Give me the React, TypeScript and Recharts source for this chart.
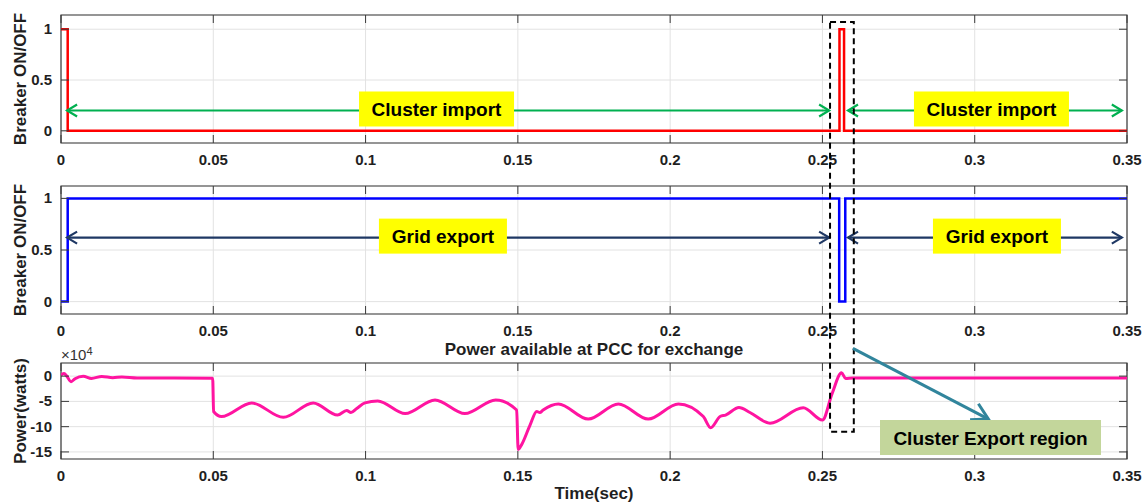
import React from 'react';
import { LineChart, Line, XAxis, YAxis, CartesianGrid, ReferenceArea } from 'recharts';

const FONT = '"Liberation Sans", Arial, Helvetica, sans-serif';
const AXIS = '#3a3a3a';
const GRID = '#e2e2e2';
const TEXT = '#1f1f1f';

// shared time axis (sec)
const timeTicks = [0, 0.05, 0.1, 0.15, 0.2, 0.25, 0.3, 0.35];
const breakerTicks = [0, 0.5, 1];
const powerTicks = [-150000, -100000, -50000, 0];

// cluster breaker state (red)
const clusterTime = [0, 0.0022, 0.2556, 0.2571, 0.35];
const clusterState = [1, 0, 1, 0, 0];

// grid breaker state (blue)
const gridTime = [0, 0.0022, 0.2555, 0.2575, 0.35];
const gridState = [0, 1, 0, 1, 1];

// power available at PCC (watts)
const powerTime = [
  0, 0.001, 0.0019, 0.0033, 0.0046, 0.0073, 0.01, 0.0134, 0.017, 0.02, 0.025, 0.0498,
  0.0501, 0.0527, 0.0626, 0.073, 0.0828, 0.0908, 0.0938, 0.0952, 0.0971, 0.0998, 0.104,
  0.113, 0.1228, 0.1326, 0.1427, 0.1496, 0.1501, 0.1512, 0.154, 0.1562, 0.1572, 0.1583,
  0.1633, 0.1731, 0.183, 0.1928, 0.2027, 0.2109, 0.2133, 0.2164, 0.2182, 0.2226, 0.2262,
  0.2328, 0.2437, 0.25, 0.2532, 0.2563, 0.2576, 0.26, 0.35,
];
const powerWatts = [
  2000, 5000, 0, -11000, -5000, 0, -4500, -500, -3000, -1500, -3500, -4000,
  -70000, -80000, -53000, -81500, -53000, -77000, -68000, -72000, -64000, -53000, -49000,
  -74000, -47000, -74000, -47000, -67000, -145000, -136000, -97000, -70000, -72000, -67000,
  -55000, -85000, -55000, -85000, -55000, -80000, -102000, -80000, -77000, -62000, -72000,
  -93000, -62500, -87000, -34000, 6500, -4500, -3500, -3500,
];

const toRows = (ts: number[], vs: number[]) => ts.map((t, i) => ({ t, v: vs[i] }));

const W = 1145;
const LEFT = 61;
const RIGHT = 1127;
const T_MAX = 0.35;

const xAt = (t: number) => LEFT + (t / T_MAX) * (RIGHT - LEFT);
const yMap = (top: number, h: number, dom: [number, number]) => (v: number) =>
  top + ((dom[1] - v) / (dom[1] - dom[0])) * h;

const P1 = { top: 15, h: 128, dom: [-0.12, 1.14] as [number, number] };
const P2 = { top: 186, h: 128, dom: [-0.12, 1.12] as [number, number] };
const P3 = { top: 363, h: 96, dom: [-164000, 26000] as [number, number] };

const y1 = yMap(P1.top, P1.h, P1.dom);
const y2 = yMap(P2.top, P2.h, P2.dom);
const y3 = yMap(P3.top, P3.h, P3.dom);

const tickText = { fontFamily: FONT, fontSize: 15, fontWeight: 700, fill: TEXT };

// MATLAB style: inward ticks on all four sides, labels outside
const makeXTick = (plotH: number) => (p: any) => (
  <g>
    <line x1={p.x} x2={p.x} y1={p.y} y2={p.y - 8} stroke={AXIS} />
    <line x1={p.x} x2={p.x} y1={p.y - plotH} y2={p.y - plotH + 8} stroke={AXIS} />
    <text x={p.x} y={p.y + 22} textAnchor="middle" {...tickText}>
      {String(p.payload.value)}
    </text>
  </g>
);

const makeYTick = (fmt: (v: number) => string) => (p: any) => {
  const plotW = RIGHT - LEFT;
  return (
    <g>
      <line x1={p.x} x2={p.x + 8} y1={p.y} y2={p.y} stroke={AXIS} />
      <line x1={p.x + plotW - 8} x2={p.x + plotW} y1={p.y} y2={p.y} stroke={AXIS} />
      <text x={p.x - 9} y={p.y + 5} textAnchor="end" {...tickText}>
        {fmt(p.payload.value)}
      </text>
    </g>
  );
};

interface PanelProps {
  top: number;
  h: number;
  dom: [number, number];
  rows: { t: number; v: number }[];
  color: string;
  strokeWidth: number;
  yTicks: number[];
  yFmt: (v: number) => string;
  curve: 'stepAfter' | 'monotone';
}

function Panel({ top, h, dom, rows, color, strokeWidth, yTicks, yFmt, curve }: PanelProps) {
  return (
    <div style={{ position: 'absolute', left: 0, top: top - 15 }}>
      <LineChart
        width={W}
        height={h + 47}
        data={rows}
        margin={{ top: 15, right: W - RIGHT, bottom: 7, left: 0 }}
      >
        <CartesianGrid stroke={GRID} />
        <XAxis
          dataKey="t"
          type="number"
          domain={[0, T_MAX]}
          ticks={timeTicks}
          interval={0}
          allowDataOverflow
          height={25}
          axisLine={false}
          tickLine={false}
          tickSize={0}
          tickMargin={0}
          tick={makeXTick(h)}
        />
        <YAxis
          type="number"
          domain={dom}
          ticks={yTicks}
          interval={0}
          allowDataOverflow
          width={LEFT}
          axisLine={false}
          tickLine={false}
          tickSize={0}
          tickMargin={0}
          tick={makeYTick(yFmt)}
        />
        <ReferenceArea
          x1={0}
          x2={T_MAX}
          y1={dom[0]}
          y2={dom[1]}
          fill="none"
          stroke={AXIS}
          strokeWidth={1.2}
          ifOverflow="visible"
        />
        <Line
          type={curve}
          dataKey="v"
          stroke={color}
          strokeWidth={strokeWidth}
          dot={false}
          isAnimationActive={false}
        />
      </LineChart>
    </div>
  );
}

// open "V" arrowhead at (tx, ty) pointing along (dx, dy)
const head = (tx: number, ty: number, dx: number, dy: number, len: number, half: number) => {
  const n = Math.hypot(dx, dy);
  const ux = dx / n;
  const uy = dy / n;
  const bx = tx - ux * len;
  const by = ty - uy * len;
  return `${bx - uy * half},${by + ux * half} ${tx},${ty} ${bx + uy * half},${by - ux * half}`;
};

function DoubleArrow({ x1, x2, y, color }: { x1: number; x2: number; y: number; color: string }) {
  return (
    <g stroke={color} strokeWidth={2.2} fill="none">
      <line x1={x1} x2={x2} y1={y} y2={y} />
      <polyline points={head(x1, y, -1, 0, 10, 6)} />
      <polyline points={head(x2, y, 1, 0, 10, 6)} />
    </g>
  );
}

function Tag({ cx, cy, w, label, fill }: { cx: number; cy: number; w: number; label: string; fill: string }) {
  return (
    <g>
      <rect x={cx - w / 2} y={cy - 17.5} width={w} height={35} fill={fill} />
      <text
        x={cx}
        y={cy + 7}
        textAnchor="middle"
        fontFamily={FONT}
        fontSize={19}
        fontWeight={700}
        fill="#000"
      >
        {label}
      </text>
    </g>
  );
}

function AxisTitle({ cx, cy, label }: { cx: number; cy: number; label: string }) {
  return (
    <text
      x={cx}
      y={cy + 6}
      transform={`rotate(-90 ${cx} ${cy})`}
      textAnchor="middle"
      fontFamily={FONT}
      fontSize={17}
      fontWeight={700}
      fill={TEXT}
    >
      {label}
    </text>
  );
}

function Overlay() {
  const greenY = y1(0.2);
  const navyY = y2(0.62);
  const boxL = xAt(0.2525);
  const boxR = xAt(0.2603);
  const arrowFrom = { x: xAt(0.26), y: y3(55000) };
  const arrowTo = { x: xAt(0.3045), y: y3(-85000) };
  return (
    <svg
      width={W}
      height={503}
      style={{ position: 'absolute', left: 0, top: 0, pointerEvents: 'none' }}
    >
      <AxisTitle cx={20} cy={P1.top + P1.h / 2} label="Breaker ON/OFF" />
      <AxisTitle cx={20} cy={P2.top + P2.h / 2} label="Breaker ON/OFF" />
      <AxisTitle cx={20} cy={P3.top + P3.h / 2} label="Power(watts)" />

      <text
        x={(LEFT + RIGHT) / 2}
        y={355}
        textAnchor="middle"
        fontFamily={FONT}
        fontSize={17}
        fontWeight={700}
        fill={TEXT}
      >
        Power available at PCC for exchange
      </text>
      <text x={(LEFT + RIGHT) / 2} y={499} textAnchor="middle" fontFamily={FONT} fontSize={17} fontWeight={700} fill={TEXT}>
        Time(sec)
      </text>
      <text x={61} y={360} fontFamily={FONT} fontSize={15} fill="#333">
        ×10
        <tspan fontSize={11} dy={-5}>
          4
        </tspan>
      </text>

      {/* cluster import spans */}
      <DoubleArrow x1={xAt(0.002)} x2={xAt(0.2522)} y={greenY} color="#00b050" />
      <DoubleArrow x1={xAt(0.2584)} x2={xAt(0.3483)} y={greenY} color="#00b050" />
      <Tag cx={xAt(0.1233)} cy={greenY - 1.5} w={155} label="Cluster import" fill="#ffff00" />
      <Tag cx={xAt(0.3055)} cy={greenY - 1.5} w={155} label="Cluster import" fill="#ffff00" />

      {/* grid export spans */}
      <DoubleArrow x1={xAt(0.002)} x2={xAt(0.2522)} y={navyY} color="#1f3864" />
      <DoubleArrow x1={xAt(0.2584)} x2={xAt(0.3483)} y={navyY} color="#1f3864" />
      <Tag cx={xAt(0.1254)} cy={navyY - 1.5} w={128} label="Grid export" fill="#ffff00" />
      <Tag cx={xAt(0.3073)} cy={navyY - 1.5} w={128} label="Grid export" fill="#ffff00" />

      {/* switching window */}
      <rect
        x={boxL}
        y={y1(1.07)}
        width={boxR - boxL}
        height={y3(-110000) - y1(1.07)}
        fill="none"
        stroke="#000"
        strokeWidth={2}
        strokeDasharray="6 4"
      />
      <g stroke="#31859c" strokeWidth={3} fill="none">
        <line x1={arrowFrom.x} y1={arrowFrom.y} x2={arrowTo.x} y2={arrowTo.y} />
        <polyline
          points={head(arrowTo.x, arrowTo.y, arrowTo.x - arrowFrom.x, arrowTo.y - arrowFrom.y, 16, 9)}
        />
      </g>
      <Tag cx={990.5} cy={437.5} w={221} label="Cluster Export region" fill="#c3d69b" />
    </svg>
  );
}

export default function App() {
  const fmtBreaker = (v: number) => String(v);
  const fmtPower = (v: number) => String(v / 10000);
  return (
    <div style={{ position: 'absolute', left: 0, top: 0, width: W, height: 503, background: '#fff' }}>
      <Panel
        {...P1}
        rows={toRows(clusterTime, clusterState)}
        color="#ff0000"
        strokeWidth={2.5}
        yTicks={breakerTicks}
        yFmt={fmtBreaker}
        curve="stepAfter"
      />
      <Panel
        {...P2}
        rows={toRows(gridTime, gridState)}
        color="#0000ff"
        strokeWidth={2.5}
        yTicks={breakerTicks}
        yFmt={fmtBreaker}
        curve="stepAfter"
      />
      <Panel
        {...P3}
        rows={toRows(powerTime, powerWatts)}
        color="#ff14a0"
        strokeWidth={3}
        yTicks={powerTicks}
        yFmt={fmtPower}
        curve="monotone"
      />
      <Overlay />
    </div>
  );
}
